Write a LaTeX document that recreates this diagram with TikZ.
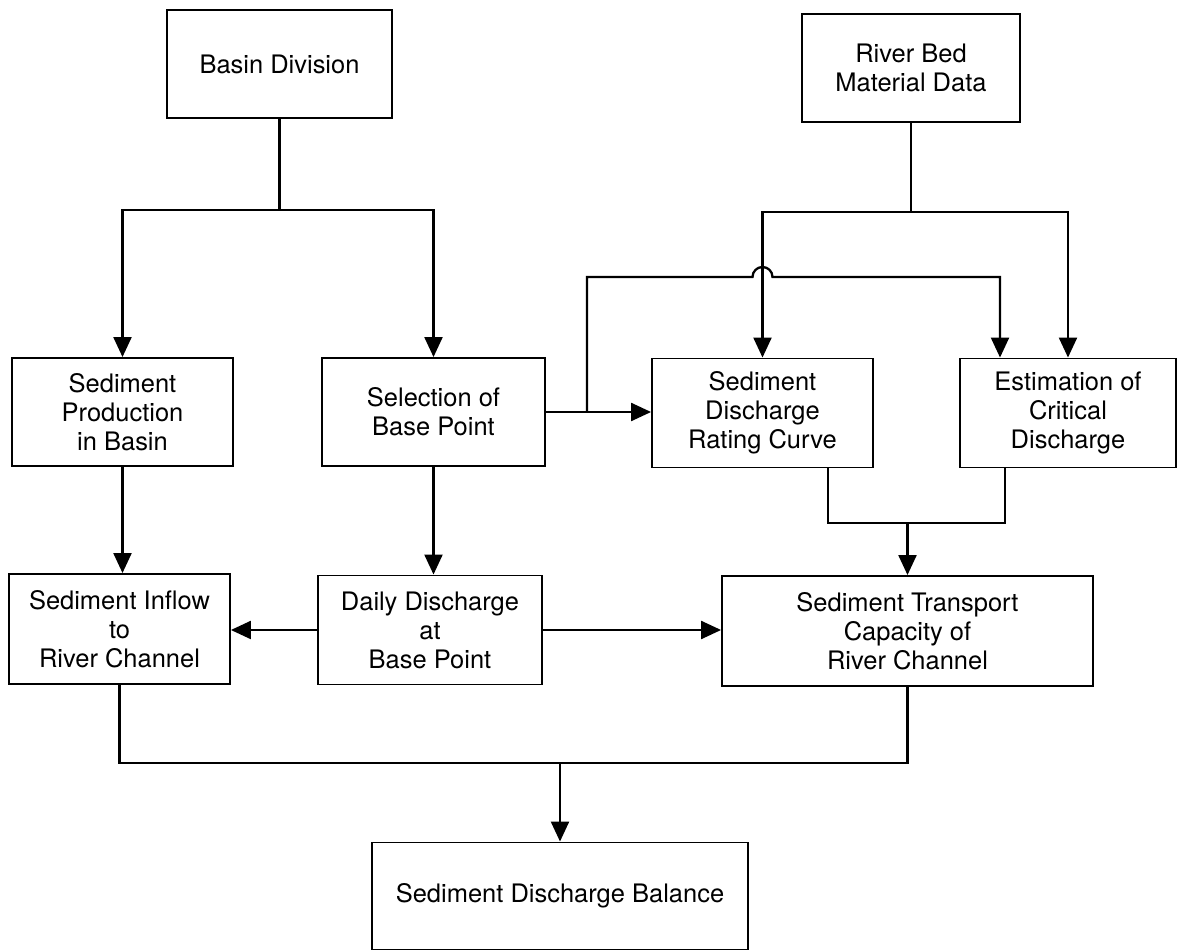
\documentclass[tikz,border=0pt]{standalone}
\usepackage{fontspec}
\setmainfont{TeX Gyre Heros}
\usetikzlibrary{arrows.meta,calc,positioning}

\begin{document}
\begin{tikzpicture}[
  x=0.02cm, y=-0.02cm,
  >={Triangle[length=4mm,width=3.6mm]},
  blk/.style  = {draw, line width=1.1pt, align=center, inner sep=2pt,
                 font=\fontsize{14.5}{16.5}\selectfont},
  flow/.style = {line width=1.3pt},
]
\useasboundingbox (0,0) rectangle (1181,952);

%% ------------------------------------------------------------------ INPUTS
\node[blk, minimum width=4.5cm,  minimum height=2.16cm] (basin) at (279.5,64) {Basin Division};
\node[blk, minimum width=4.36cm, minimum height=2.16cm] (bed)   at (911,68)   {River Bed\\Material Data};

%% ------------------------------------------------------------------ MIDDLE ROW
\node[blk, minimum width=4.42cm, minimum height=2.16cm] (prod) at (122.5,412) {Sediment\\Production\\in Basin};
\node[blk, minimum width=4.46cm, minimum height=2.16cm] (sel)  at (433.5,412) {Selection of\\Base Point};
\node[blk, minimum width=4.42cm, minimum height=2.18cm] (rate) at (762.5,413) {Sediment\\Discharge\\Rating Curve};
\node[blk, minimum width=4.32cm, minimum height=2.18cm] (est)  at (1068,413)  {Estimation of\\Critical\\Discharge};

%% ------------------------------------------------------------------ LOWER ROW
\node[blk, minimum width=4.42cm, minimum height=2.2cm]  (inflow) at (119.5,629) {Sediment Inflow\\to\\River Channel};
\node[blk, minimum width=4.48cm, minimum height=2.18cm] (daily)  at (430,630)   {Daily Discharge\\at\\Base Point};
\node[blk, minimum width=7.42cm, minimum height=2.2cm]  (trans)  at (907.5,631) {Sediment Transport\\Capacity of\\River Channel};

\node[blk, minimum width=7.52cm, minimum height=2.14cm] (bal) at (560,896) {Sediment Discharge Balance};

%% junctions
\coordinate (bj)   at (279.5,210);
\coordinate (rj)   at (911,212);
\coordinate (sj)   at (587,412);
\coordinate (hopA) at (752.5,277);   % hop over bed -> rate
\coordinate (mj)   at (907.5,523);
\coordinate (oj)   at (560,763);

%% ------------------------------------------------------------------ CONNECTORS
\draw[flow] (basin.south) -- (bj);
\draw[flow, ->] (bj) -| (prod.north);
\draw[flow, ->] (bj) -| (sel.north);

\draw[flow] (bed.south) -- (rj);
\draw[flow, ->] (rj) -| (rate.north);
\draw[flow, ->] (rj) -| (est.north);

\draw[flow, ->] (sel.east) -- (sel.east -| rate.west);
\draw[flow, ->] (sj) |- (hopA) arc[start angle=180, end angle=0, radius=0.2cm]
      -| ([xshift=-1.36cm]est.north);

\draw[flow] ([xshift=1.31cm]rate.south) |- (mj) -| ([xshift=-1.26cm]est.south);
\draw[flow, ->] (mj) -- (trans.north);

\draw[flow, ->] (prod.south) -- (prod.south |- inflow.north);
\draw[flow, ->] (sel.south) -- (sel.south |- daily.north);
\draw[flow, ->] (daily.west) -- (daily.west -| inflow.east);
\draw[flow, ->] (daily.east) -- (daily.east -| trans.west);

\draw[flow] (inflow.south) |- (oj) -| (trans.south);
\draw[flow, ->] (oj) -- (bal.north);

\end{tikzpicture}
\end{document}
